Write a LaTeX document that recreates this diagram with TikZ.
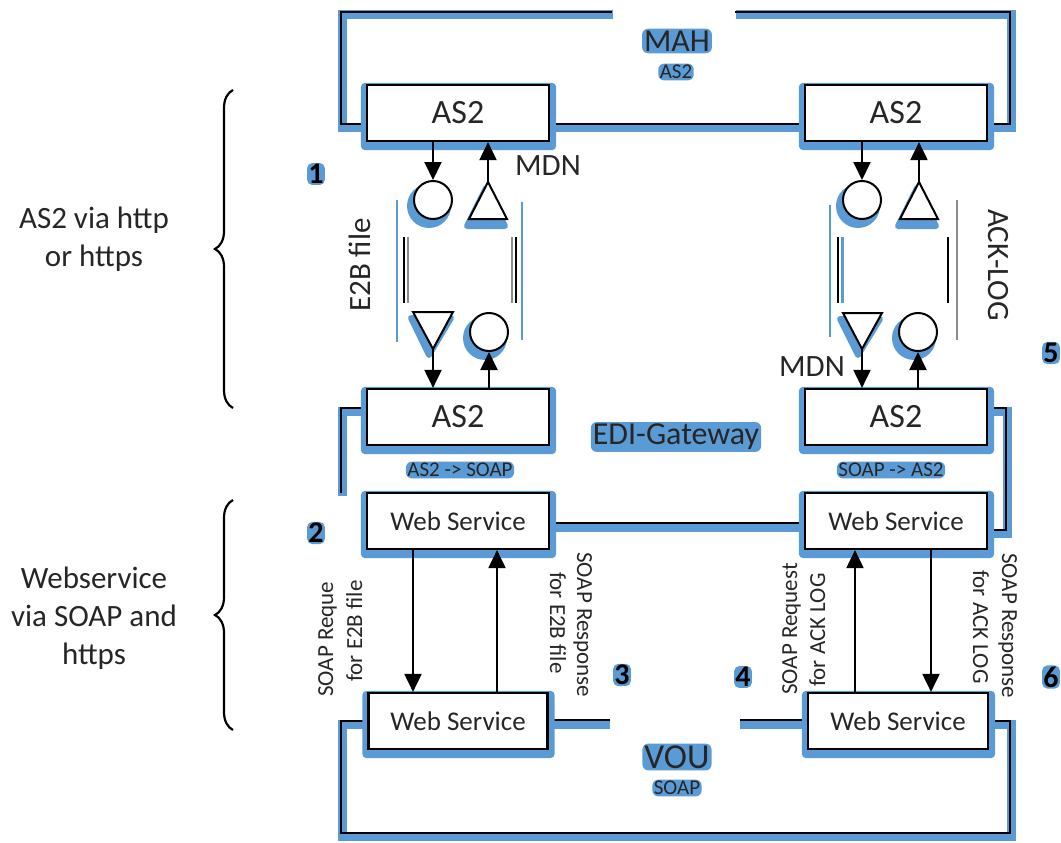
\documentclass[tikz,border=0pt]{standalone}
\usepackage{fontspec}
\setmainfont{Carlito}
\usetikzlibrary{arrows.meta,decorations.pathreplacing,backgrounds,calc}
\definecolor{ink}{HTML}{262626}
\definecolor{glow}{HTML}{5B9BD5}
\definecolor{edge}{HTML}{8C8C8C}
\newcommand\fs[1]{\fontsize{#1}{#1}\selectfont}
\newcommand\glowbox[1]{\fill[glow, rounded corners=4pt] ($(#1.north west)+(-5,-1)$) rectangle ($(#1.south east)+(6,8)$);}
\begin{document}
\begin{tikzpicture}[x=1pt,y=-1pt,
  every node/.style={text=ink},
  blk/.style={draw=black, line width=2.2pt, fill=white, minimum width=182pt, minimum height=56pt, inner sep=0pt},
  as2t/.style={font=\fontsize{34}{38}\selectfont},
  wst/.style={font=\fontsize{27}{30}\selectfont},
  lab/.style={font=\fontsize{31}{36}\selectfont, inner sep=0pt},
  rot/.style={font=\fontsize{23}{26}\selectfont, inner sep=0pt},
  side/.style={font=\fontsize{31}{38}\selectfont, align=center},
  num/.style={font=\fontsize{30}{30}\selectfont\bfseries, text=black, fill=glow, rounded corners=5pt, inner sep=1.2pt},
  blob/.style={fill=glow, rounded corners=6pt, inner sep=2pt},
  arr/.style={draw=black, line width=2pt, -{Triangle[width=17pt,length=18pt]}},
  frame/.style={draw=black, line width=2.4pt},
  band/.style={draw=glow, line width=9pt},
  ring/.style={circle, draw=black, line width=2pt, fill=white, minimum size=38pt, inner sep=0pt},
  tri/.style={draw=black, line width=2pt, fill=white, line join=miter},
  trishade/.style={fill=glow, draw=glow, line width=6pt, line join=round},
  brc/.style={draw=black, line width=2.2pt, decorate, decoration={brace, amplitude=18pt}}
]
\useasboundingbox (0,0) rectangle (1061,843);

% ---------------- boxes ----------------
\node[blk, as2t] (as2TL) at (458,113) {AS2};
\node[blk, as2t] (as2TR) at (896,113) {AS2};
\node[blk, as2t] (as2BL) at (458,417) {AS2};
\node[blk, as2t] (as2BR) at (896,417) {AS2};
\node[blk, wst] (wsTL) at (458,521) {Web Service};
\node[blk, wst] (wsTR) at (896,521) {Web Service};
\node[blk, wst, minimum width=179pt] (wsBL) at (458,721) {Web Service};
\node[blk, wst, minimum width=180pt] (wsBR) at (898,721) {Web Service};

% ---------------- signal shapes: left column ----------------
\fill[glow] (429,206) circle[radius=22pt];
\node[ring] (cLt) at (433,200) {};
\filldraw[trishade] (486,188) -- (467,226) -- (505,226) -- cycle;
\filldraw[tri] (488,182) coordinate (tLtop) -- (469,219) -- (507,219) -- cycle;
\filldraw[trishade] (429,355) -- (411,318) -- (451,318) -- cycle;
\filldraw[tri] (433,349) coordinate (tLbot) -- (413,312) -- (453,312) -- cycle;
\fill[glow] (485,338) circle[radius=22pt];
\node[ring] (cLb) at (489,332) {};

% ---------------- signal shapes: right column ----------------
\fill[glow] (858,206) circle[radius=22pt];
\node[ring] (cRt) at (862,200) {};
\filldraw[trishade] (917,188) -- (898,226) -- (936,226) -- cycle;
\filldraw[tri] (919,182) coordinate (tRtop) -- (900,219) -- (938,219) -- cycle;
\filldraw[trishade] (858,355) -- (840,319) -- (880,319) -- cycle;
\filldraw[tri] (862,349) coordinate (tRbot) -- (843,313) -- (882,313) -- cycle;
\fill[glow] (914,338) circle[radius=22pt];
\node[ring] (cRb) at (918,332) {};

% ---------------- connectors ----------------
\draw[arr] (as2TL.south -| cLt) -- (cLt.north);
\draw[arr] (tLtop) -- (as2TL.south -| tLtop);
\draw[arr] (tLbot) -- (as2BL.north -| tLbot);
\draw[arr] (as2BL.north -| cLb) -- (cLb.south);
\draw[arr] (as2TR.south -| cRt) -- (cRt.north);
\draw[arr] (tRtop) -- (as2TR.south -| tRtop);
\draw[arr] (tRbot) -- (as2BR.north -| tRbot);
\draw[arr] (as2BR.north -| cRb) -- (cRb.south);

\coordinate (xa) at (413,0);
\coordinate (xb) at (497,0);
\coordinate (xc) at (855,0);
\coordinate (xd) at (931,0);
\draw[arr] (wsTL.south -| xa) -- (wsBL.north -| xa);
\draw[arr] (wsBL.north -| xb) -- (wsTL.south -| xb);
\draw[arr] (wsBR.north -| xc) -- (wsTR.south -| xc);
\draw[arr] (wsTR.south -| xd) -- (wsBR.north -| xd);

% ---------------- labels ----------------
\node[blob, font=\fs{32}] (mah) at (677,41) {MAH};
\node[blob, font=\fs{21}, inner sep=1.5pt] (mahsub) at (676,72) {AS2};
\node[blob, font=\fs{32}] (edi) at (676,437) {EDI-Gateway};
\node[blob, font=\fs{21}, inner sep=1.5pt] (a2s) at (460,470) {AS2 -> SOAP};
\node[blob, font=\fs{21}, inner sep=1.5pt] (s2a) at (891,470) {SOAP -> AS2};
\node[blob, font=\fs{35}] (vou) at (677,757) {VOU};
\node[blob, font=\fs{21}, inner sep=1.5pt] (vousub) at (677,788) {SOAP};

\node[lab] (mdnA) at (548,166) {MDN};
\node[lab] (mdnB) at (812,367) {MDN};
\node[lab, rotate=90] (e2b) at (360,265) {E2B file};
\node[lab, rotate=-90] (ack) at (998,265) {ACK-LOG};

\node[rot, rotate=90, anchor=base west] (rqA1) at (333,697) {SOAP Reque};
\node[rot, rotate=90, anchor=base west] (rqA2) at (362,682) {for E2B file};
\node[rot, rotate=-90, anchor=base west] (rsA1) at (577,552) {SOAP Response};
\node[rot, rotate=-90, anchor=base west] (rsA2) at (550,572) {for E2B file};
\node[rot, rotate=90, anchor=base west] (rqB1) at (797,695) {SOAP Request};
\node[rot, rotate=90, anchor=base west] (rqB2) at (825,687) {for ACK LOG};
\node[rot, rotate=-90, anchor=base west] (rsB1) at (1002,553) {SOAP Response};
\node[rot, rotate=-90, anchor=base west] (rsB2) at (973,570) {for ACK LOG};

\node[num] (n1) at (316,174) {1};
\node[num] (n2) at (316,533) {2};
\node[num] (n3) at (622,675) {3};
\node[num] (n4) at (743,677) {4};
\node[num] (n5) at (1051,353) {5};
\node[num] (n6) at (1051,677) {6};

% ---------------- side annotations ----------------
\node[side] (sideA) at (94,239) {AS2 via http\\or https};
\node[side] (sideB) at (94,618) {Webservice\\via SOAP and\\https};
\coordinate (bAlo) at (233,408);
\coordinate (bAhi) at (233,90);
\coordinate (bBlo) at (233,730);
\coordinate (bBhi) at (233,500);
\draw[brc] (bAlo) -- (bAhi);
\draw[brc] (bBlo) -- (bBhi);

% ---------------- frames and shadows ----------------
\begin{scope}[on background layer]
  % MAH
  \draw[band, shift={(1,3)}] (612,12) -- (341,12) -- (341,124) -- (1010,124) -- (1010,12) -- (735,12);
  \draw[frame] (612,12) -- (341,12) -- (341,124) -- (1010,124) -- (1010,12) -- (735,12);
  % EDI-Gateway
  \draw[band, shift={(1,3)}] (365,408) -- (341,408) -- (341,493);
  \draw[frame] (365,408) -- (341,408) -- (341,493);
  \draw[band, shift={(0,4)}] (549,523) -- (805,523);
  \draw[frame] (549,523) -- (805,523);
  \draw[band, shift={(1,3)}] (990,408) -- (1006,408) -- (1006,530) -- (990,530);
  \draw[frame] (990,408) -- (1006,408) -- (1006,530) -- (990,530);
  % VOU
  \draw[band, shift={(1,3)}] (369,721) -- (341,721) -- (341,833) -- (1010,833) -- (1010,721) -- (988,721);
  \draw[frame] (369,721) -- (341,721) -- (341,833) -- (1010,833) -- (1010,721) -- (988,721);
  \draw[band, shift={(0,4)}] (549,720) -- (610,720);
  \draw[frame] (549,720) -- (610,720);
  \draw[band, shift={(0,4)}] (740,720) -- (808,720);
  \draw[frame] (740,720) -- (808,720);
  % channel frames between the AS2 boxes
  \draw[glow, line width=2pt] (397,200) -- (397,342);
  \draw[frame] (404,237) -- (404,303);
  \draw[edge, line width=2pt] (408,237) -- (408,303);
  \draw[frame] (516,237) -- (516,303);
  \draw[edge, line width=2pt] (512,237) -- (512,303);
  \draw[glow, line width=2pt] (522,202) -- (522,340);
  \draw[glow, line width=2pt] (830,205) -- (830,337);
  \draw[frame] (838,237) -- (838,303);
  \draw[glow, line width=3pt] (842,237) -- (842,303);
  \draw[frame] (948,237) -- (948,303);
  \draw[edge, line width=2pt] (957,200) -- (957,340);
  % box shadows
  \glowbox{as2TL}\glowbox{as2TR}\glowbox{as2BL}\glowbox{as2BR}
  \glowbox{wsTL}\glowbox{wsTR}\glowbox{wsBL}\glowbox{wsBR}
\end{scope}
\end{tikzpicture}
\end{document}
